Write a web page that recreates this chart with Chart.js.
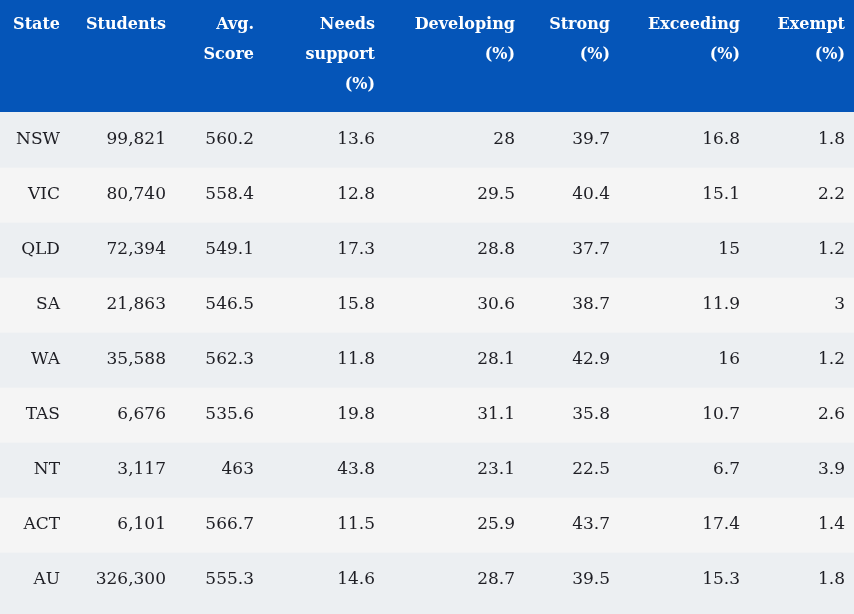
<!DOCTYPE html>
<html>
<head>
<meta charset="utf-8">
<script src="https://cdn.jsdelivr.net/npm/chart.js@4"></script>
<style>
  body { margin: 0; background: #ffffff; }
</style>
</head>
<body>
<canvas id="tableChart" width="854" height="614"></canvas>
<script>
// Table values
const states = ['NSW', 'VIC', 'QLD', 'SA', 'WA', 'TAS', 'NT', 'ACT', 'AU'];
const students = [99821, 80740, 72394, 21863, 35588, 6676, 3117, 6101, 326300];
const avgScore = [560.2, 558.4, 549.1, 546.5, 562.3, 535.6, 463, 566.7, 555.3];
const needsSupport = [13.6, 12.8, 17.3, 15.8, 11.8, 19.8, 43.8, 11.5, 14.6];
const developing = [28, 29.5, 28.8, 30.6, 28.1, 31.1, 23.1, 25.9, 28.7];
const strong = [39.7, 40.4, 37.7, 38.7, 42.9, 35.8, 22.5, 43.7, 39.5];
const exceeding = [16.8, 15.1, 15, 11.9, 16, 10.7, 6.7, 17.4, 15.3];
const exempt = [1.8, 2.2, 1.2, 3, 1.2, 2.6, 3.9, 1.4, 1.8];
const headers = [
  ['State'], ['Students'], ['Avg.', 'Score'], ['Needs', 'support', '(%)'],
  ['Developing', '(%)'], ['Strong', '(%)'], ['Exceeding', '(%)'], ['Exempt', '(%)']
];

const columns = [
  states,
  students.map(v => v.toLocaleString('en-US')),
  avgScore, needsSupport, developing, strong, exceeding, exempt
];

// right edge of each column in px
const colRight = [60, 166, 254, 375, 515, 610, 740, 845];
const HEADER_H = 113;
const FONT = '"DejaVu Serif", serif';

const tablePlugin = {
  id: 'tablePlugin',
  beforeDraw(chart) {
    const { ctx } = chart;
    ctx.save();
    ctx.fillStyle = '#eceff2';
    ctx.fillRect(0, 0, chart.width, chart.height);
    ctx.restore();
  },
  afterDraw(chart) {
    const { ctx } = chart;
    const yScale = chart.scales.y;
    ctx.save();
    // header band
    ctx.fillStyle = '#0555b8';
    ctx.fillRect(0, 0, chart.width, HEADER_H - 1);
    ctx.fillStyle = '#ffffff';
    ctx.font = 'bold 16px ' + FONT;
    ctx.textAlign = 'right';
    ctx.textBaseline = 'middle';
    headers.forEach((lines, c) => {
      lines.forEach((line, i) => {
        ctx.fillText(line, colRight[c], 25 + i * 30);
      });
    });
    // body cells
    ctx.fillStyle = '#1e1e24';
    ctx.font = '17px ' + FONT;
    states.forEach((s, r) => {
      const y = yScale.getPixelForValue(r);
      columns.forEach((col, c) => {
        ctx.fillText(String(col[r]), colRight[c], y - 1);
      });
    });
    ctx.restore();
  }
};

const ctx = document.getElementById('tableChart').getContext('2d');
new Chart(ctx, {
  type: 'bar',
  data: {
    labels: states,
    datasets: [{
      data: states.map(() => [0, 1]),
      backgroundColor: states.map((s, i) => (i % 2 === 0 ? '#eceff2' : '#f5f5f5')),
      borderWidth: 0,
      barPercentage: 1,
      categoryPercentage: 1
    }]
  },
  options: {
    indexAxis: 'y',
    responsive: false,
    animation: false,
    layout: { padding: { top: HEADER_H, bottom: 6, left: 0, right: 0 } },
    plugins: { legend: { display: false }, tooltip: { enabled: false } },
    scales: {
      x: { display: false, min: 0, max: 1 },
      y: { display: false, grid: { display: false } }
    }
  },
  plugins: [tablePlugin]
});
</script>
</body>
</html>
